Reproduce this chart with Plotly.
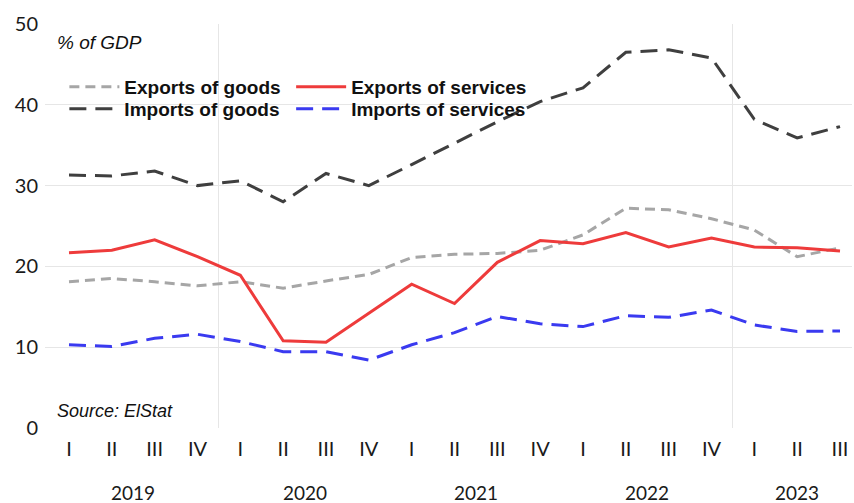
import plotly.graph_objects as go

# Quarterly trade flows, % of GDP
quarters = ["I", "II", "III", "IV"] * 4 + ["I", "II", "III"]
years = ["2019", "2020", "2021", "2022", "2023"]
year_centers = [1.5, 5.5, 9.5, 13.5, 17.0]

exports_goods = [18.1, 18.5, 18.1, 17.6, 18.1, 17.3, 18.2, 19.0, 21.1, 21.5,
                 21.6, 22.0, 23.9, 27.2, 27.0, 25.9, 24.5, 21.2, 22.3]
exports_services = [21.7, 22.0, 23.3, 21.2, 18.9, 10.8, 10.6, 14.2, 17.8, 15.4,
                    20.5, 23.2, 22.8, 24.2, 22.4, 23.5, 22.4, 22.3, 21.9]
imports_goods = [31.3, 31.2, 31.8, 30.0, 30.6, 28.0, 31.5, 30.0, 32.6, 35.3,
                 37.9, 40.4, 42.1, 46.5, 46.8, 45.8, 38.2, 35.9, 37.3]
imports_services = [10.3, 10.1, 11.1, 11.6, 10.7, 9.45, 9.45, 8.4, 10.3, 11.8,
                    13.8, 12.9, 12.55, 13.9, 13.7, 14.6, 12.75, 11.95, 12.0]

x = list(range(len(quarters)))

# each series gets its own legend box so the 2x2 key can be placed freely
series = [
    ("Exports of goods", exports_goods, "#a6a6a6", "10px,6px", "legend"),
    ("Exports of services", exports_services, "#ee3b3b", "solid", "legend2"),
    ("Imports of goods", imports_goods, "#3f3f3f", "17px,9px", "legend3"),
    ("Imports of services", imports_services, "#3a3af0", "17px,9px", "legend4"),
]

fig = go.Figure()
for name, vals, color, dash, leg in series:
    fig.add_trace(go.Scatter(
        x=x, y=vals, name=name, mode="lines",
        line=dict(color=color, width=3, dash=dash),
        legend=leg,
    ))

label_font = dict(family="Lato, Open Sans, sans-serif", size=20, color="#1a1a1a")
legend_font = dict(family="Liberation Sans, Arial, sans-serif", size=19,
                   color="#111111", weight="bold")
note_font = dict(family="Liberation Sans, Arial, sans-serif", size=18, color="#111111")

legend_common = dict(
    xanchor="left", yanchor="middle", orientation="h",
    bgcolor="rgba(0,0,0,0)", font=legend_font, itemwidth=50,
)
col1_x, col2_x = 0.024, 0.305
row1_y, row2_y = (428 - 87) / 404, (428 - 109) / 404

fig.update_layout(
    width=854, height=503,
    margin=dict(l=45, r=2, t=24, b=75),
    paper_bgcolor="white", plot_bgcolor="white",
    showlegend=True,
    xaxis=dict(
        range=[-0.56, 18.28], tickmode="array", tickvals=x, ticktext=quarters,
        showgrid=False, zeroline=False, showline=False, ticks="",
        tickfont=label_font, ticklabelstandoff=7,
    ),
    xaxis2=dict(
        range=[-0.56, 18.28], overlaying="x", tick0=3.5, dtick=12,
        showgrid=True, gridcolor="#e6e6e6", gridwidth=1,
        showticklabels=False, zeroline=False, ticks="",
    ),
    yaxis=dict(
        range=[0, 50], tickvals=[0, 10, 20, 30, 40, 50],
        showgrid=False, zeroline=False, showline=False, ticks="",
        tickfont=label_font, ticklabelstandoff=6,
    ),
    yaxis2=dict(
        range=[0, 50], overlaying="y", tickvals=[10, 20, 30, 40],
        showgrid=True, gridcolor="#e6e6e6", gridwidth=1,
        showticklabels=False, zeroline=False, ticks="",
    ),
    legend=dict(x=col1_x, y=row1_y, **legend_common),
    legend2=dict(x=col2_x, y=row1_y, **legend_common),
    legend3=dict(x=col1_x, y=row2_y, **legend_common),
    legend4=dict(x=col2_x, y=row2_y, **legend_common),
)

# invisible trace anchoring the grid axes
fig.add_trace(go.Scatter(x=[None], y=[None], xaxis="x2", yaxis="y2",
                         showlegend=False, hoverinfo="skip"))

for yr, xc in zip(years, year_centers):
    fig.add_annotation(x=xc, y=-(493 - 428) / 404, xref="x", yref="paper", text=yr,
                       showarrow=False, font=dict(label_font, size=19),
                       xanchor="center", yanchor="middle")

fig.add_annotation(x=0.012, y=(428 - 42) / 404, xref="paper", yref="paper",
                   text="<i>% of GDP</i>", showarrow=False,
                   xanchor="left", yanchor="middle", font=dict(note_font, size=19))

fig.add_annotation(x=0.012, y=(428 - 411) / 404, xref="paper", yref="paper",
                   text="<i>Source: ElStat</i>", showarrow=False,
                   xanchor="left", yanchor="middle", font=note_font)

fig.write_html("out.html")
